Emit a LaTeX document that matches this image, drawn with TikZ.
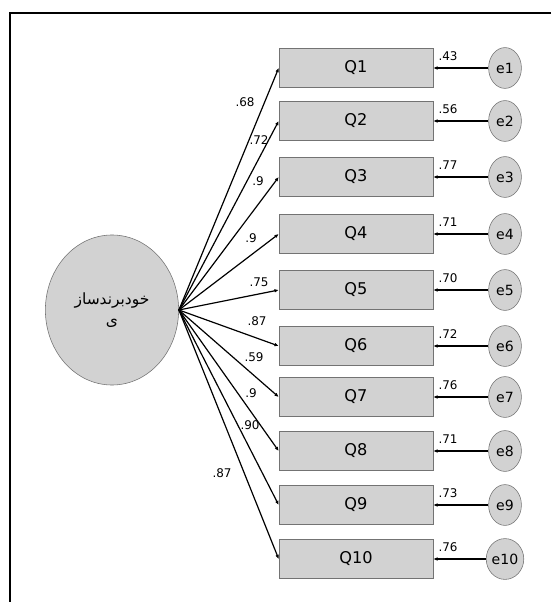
\documentclass[tikz,border=0pt]{standalone}
\usepackage{fontspec}
\setmainfont{DejaVu Sans}
\newfontfamily\arabicfont[Script=Arabic]{DejaVu Sans}
\TeXXeTstate=1
\usetikzlibrary{shapes.geometric}
\usetikzlibrary{arrows.meta}
\definecolor{boxgray}{RGB}{210,210,210}
\definecolor{edgegray}{RGB}{115,115,115}
\tikzset{
	qbox/.style={draw=edgegray, fill=boxgray, minimum width=3.85cm, minimum height=0.97cm, font=\fontsize{11.5}{13}\selectfont},
	ebox/.style={ellipse, draw=edgegray, fill=boxgray, minimum width=0.82cm, minimum height=1.02cm, inner sep=0pt, font=\fontsize{10}{12}\selectfont},
	load/.style={-{Latex[length=3pt,width=2.6pt]}, line width=0.85pt},
	val/.style={inner sep=1pt, font=\fontsize{8.5}{10}\selectfont}
}
\newcommand{\indicator}[6] % number, y in px, loading, label x, label y, error weight
{
	% observed item and its error
	\node[qbox] (q#1) at (356,#2) {Q#1};
	\node[ebox] (e#1) at (505,#2) {e#1};
	% paths
	\draw[load] (lat.east) -- (q#1.west);
	\draw[load, line width=1pt] (e#1) -- (q#1.east);
	% estimates
	\node[val] (l#1) at (#4,#5) {#3};
	\node[val, anchor=south west, xshift=2.5pt, yshift=4pt] (w#1) at (q#1.east) {#6};
}

\begin{document}
\begin{tikzpicture}[x=0.025cm, y=-0.025cm]
	% page: 551 x 602 px
	\useasboundingbox (0,0) rectangle (551,602);
	\draw[line width=1.5pt] (551,13) -- (10,13) -- (10,602);
	% latent variable
	\node[ellipse, draw=edgegray, fill=boxgray, minimum width=3.33cm, minimum height=3.75cm, align=center, font=\arabicfont\fontsize{11}{15}\selectfont] (lat) at (112,310) {\beginR خودبرندساز\endR\\\beginR ی\endR};
	% items
	\indicator{1}{68}{.68}{245}{102}{.43}
	\indicator{2}{121}{.72}{259}{140}{.56}
	\indicator{3}{177}{.9}{258}{181}{.77}
	\indicator{4}{234}{.9}{251}{238}{.71}
	\indicator{5}{290}{.75}{259}{282}{.70}
	\indicator{6}{346}{.87}{257}{321}{.72}
	\indicator{7}{397}{.59}{254}{357}{.76}
	\indicator{8}{451}{.9}{251}{393}{.71}
	\indicator{9}{505}{.90}{250}{425}{.73}
	\indicator{10}{559}{.87}{222}{473}{.76}
	
\end{tikzpicture}
\end{document}
